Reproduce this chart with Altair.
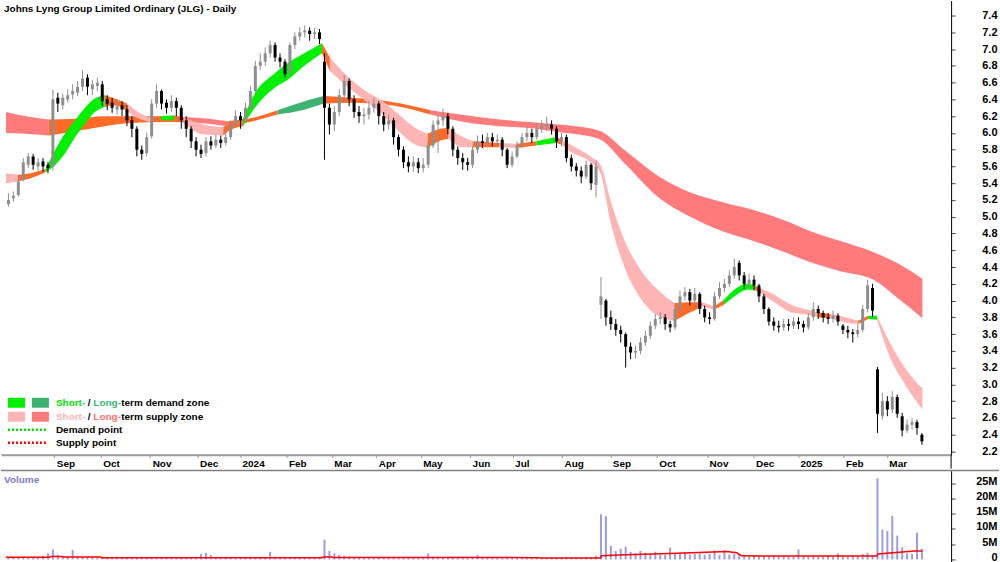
import json
import altair as alt
import pandas as pd

FONT = "Liberation Sans"

# ---------------- candles (one candle per two sessions) ----------------
OPEN = [5.15,5.22,5.26,5.45,5.62,5.72,5.60,5.66,5.62,5.60,
        6.42,6.33,6.40,6.46,6.48,6.55,6.66,6.52,6.56,6.58,
        6.40,6.36,6.28,6.33,6.28,6.15,6.05,5.80,5.76,5.96,
        6.35,6.50,6.36,6.30,6.38,6.30,6.15,6.05,5.90,5.80,
        5.76,5.90,5.85,5.92,5.88,5.95,6.10,6.20,6.15,6.30,
        6.50,6.80,6.85,6.95,7.05,6.90,6.85,6.72,7.05,7.15,
        7.20,7.22,7.18,7.20,6.85,6.30,6.10,6.25,6.45,6.62,
        6.40,6.25,6.20,6.22,6.30,6.35,6.20,6.10,6.15,5.95,
        5.80,5.65,5.60,5.65,5.58,5.62,5.85,6.10,6.15,6.20,
        6.05,5.80,5.70,5.65,5.62,5.80,5.90,5.88,5.95,5.90,
        5.92,5.80,5.62,5.72,5.85,5.95,6.00,5.95,6.05,6.08,
        6.10,6.05,5.90,5.95,5.70,5.60,5.55,5.48,5.62,5.38,
        3.95,4.00,3.80,3.72,3.65,3.60,3.45,3.38,3.40,3.50,
        3.58,3.70,3.78,3.80,3.72,3.68,3.90,4.05,4.10,4.00,
        4.08,3.90,3.80,3.78,4.05,4.15,4.20,4.30,4.45,4.30,
        4.20,4.25,4.18,4.05,3.90,3.75,3.70,3.68,3.72,3.70,
        3.75,3.72,3.68,3.80,3.90,3.85,3.80,3.78,3.82,3.70,
        3.65,3.62,3.60,3.65,3.90,4.15,3.18,2.62,2.80,2.70,
        2.85,2.62,2.45,2.52,2.55,2.40]
HIGH = [5.28,5.30,5.47,5.70,5.76,5.75,5.70,5.70,5.65,6.52,
        6.48,6.47,6.52,6.58,6.62,6.75,6.70,6.63,6.66,6.62,
        6.45,6.42,6.40,6.38,6.33,6.20,6.08,5.85,6.00,6.40,
        6.58,6.52,6.40,6.45,6.42,6.33,6.20,6.08,5.95,5.86,
        5.95,5.96,5.98,5.97,6.02,6.15,6.27,6.25,6.36,6.56,
        6.86,6.95,7.02,7.10,7.08,6.95,6.88,7.08,7.20,7.26,
        7.28,7.26,7.25,7.24,6.95,6.35,6.32,6.52,6.69,6.65,
        6.45,6.32,6.30,6.38,6.42,6.38,6.25,6.22,6.18,5.98,
        5.84,5.72,5.72,5.70,5.70,5.90,6.15,6.22,6.29,6.24,
        6.08,5.84,5.76,5.70,5.84,5.97,5.98,6.00,6.00,5.98,
        5.95,5.82,5.78,5.90,6.00,6.08,6.05,6.12,6.15,6.19,
        6.15,6.08,6.00,5.98,5.74,5.64,5.60,5.67,5.64,5.67,
        4.28,4.02,3.88,3.78,3.70,3.62,3.50,3.46,3.56,3.64,
        3.75,3.84,3.86,3.84,3.76,3.95,4.12,4.16,4.14,4.15,
        4.10,3.94,3.86,4.10,4.22,4.26,4.36,4.50,4.48,4.34,
        4.32,4.30,4.20,4.08,3.92,3.80,3.76,3.78,3.78,3.80,
        3.80,3.76,3.85,3.98,3.94,3.88,3.85,3.88,3.85,3.72,
        3.70,3.66,3.72,3.95,4.25,4.20,3.21,2.90,2.86,2.92,
        2.88,2.66,2.58,2.60,2.58,2.42]
LOW = [5.12,5.18,5.24,5.42,5.58,5.56,5.55,5.54,5.52,5.55,
       6.25,6.28,6.36,6.40,6.44,6.50,6.45,6.45,6.50,6.32,
       6.27,6.24,6.22,6.20,6.08,5.95,5.72,5.68,5.72,5.93,
       6.30,6.28,6.23,6.25,6.20,6.05,5.95,5.82,5.72,5.70,
       5.72,5.80,5.82,5.82,5.85,5.92,6.06,6.05,6.12,6.27,
       6.47,6.75,6.80,6.90,6.85,6.78,6.66,6.70,7.00,7.10,
       7.14,7.10,7.12,7.06,5.68,5.98,6.02,6.20,6.40,6.32,
       6.18,6.12,6.10,6.16,6.24,6.10,6.02,6.04,5.86,5.72,
       5.58,5.53,5.54,5.52,5.53,5.58,5.82,5.76,6.08,5.98,
       5.72,5.62,5.56,5.55,5.58,5.76,5.82,5.84,5.84,5.86,
       5.72,5.58,5.59,5.70,5.82,5.90,5.88,5.92,6.00,6.02,
       5.98,5.82,5.84,5.65,5.54,5.48,5.40,5.45,5.32,5.23,
       3.78,3.70,3.65,3.58,3.50,3.20,3.30,3.31,3.36,3.46,
       3.54,3.66,3.72,3.65,3.62,3.65,3.86,4.00,3.94,3.96,
       3.84,3.74,3.72,3.76,4.02,4.10,4.16,4.26,4.24,4.14,
       4.15,4.12,3.98,3.84,3.70,3.64,3.62,3.64,3.64,3.66,
       3.66,3.62,3.65,3.76,3.78,3.74,3.72,3.74,3.70,3.60,
       3.55,3.50,3.56,3.62,3.86,3.80,2.42,2.58,2.62,2.66,
       2.60,2.38,2.42,2.46,2.40,2.28]
CLOSE = [5.20,5.25,5.42,5.65,5.72,5.62,5.65,5.60,5.58,6.40,
         6.35,6.42,6.45,6.50,6.55,6.65,6.55,6.58,6.60,6.38,
         6.35,6.30,6.32,6.28,6.15,6.05,5.80,5.75,5.95,6.35,
         6.50,6.35,6.30,6.38,6.30,6.15,6.05,5.90,5.80,5.75,
         5.90,5.85,5.92,5.88,5.95,6.10,6.20,6.15,6.30,6.50,
         6.80,6.85,6.95,7.05,6.90,6.85,6.70,7.05,7.15,7.20,
         7.22,7.18,7.20,7.12,6.30,6.10,6.25,6.45,6.62,6.40,
         6.25,6.20,6.22,6.30,6.35,6.20,6.10,6.15,5.95,5.80,
         5.65,5.60,5.65,5.58,5.62,5.85,6.10,6.15,6.20,6.05,
         5.80,5.70,5.65,5.62,5.80,5.90,5.88,5.95,5.90,5.92,
         5.80,5.62,5.72,5.85,5.95,6.00,5.95,6.05,6.08,6.10,
         6.05,5.90,5.95,5.70,5.60,5.55,5.48,5.62,5.40,5.60,
         4.05,3.80,3.72,3.65,3.60,3.45,3.38,3.40,3.50,3.58,
         3.70,3.78,3.80,3.72,3.68,3.90,4.05,4.10,4.00,4.08,
         3.90,3.80,3.78,4.05,4.15,4.20,4.30,4.40,4.30,4.20,
         4.25,4.18,4.05,3.90,3.75,3.70,3.68,3.72,3.70,3.75,
         3.72,3.68,3.80,3.90,3.85,3.80,3.78,3.82,3.75,3.65,
         3.62,3.60,3.65,3.90,4.18,3.88,2.65,2.80,2.70,2.85,
         2.65,2.45,2.52,2.55,2.48,2.32]
VOLUME_M = [0.6,0.8,0.7,0.9,0.6,0.5,0.7,1.2,2.0,3.3,
            1.5,0.9,0.8,3.1,0.9,0.8,0.7,0.9,0.6,0.5,
            0.6,0.5,0.7,0.6,0.8,0.6,0.7,0.9,0.6,0.8,
            0.7,0.6,0.5,0.7,0.6,0.8,0.6,0.7,0.9,1.8,
            2.2,1.5,0.8,0.6,0.7,0.6,0.8,0.7,0.6,0.9,
            0.7,0.8,0.6,2.5,0.7,0.6,0.8,0.7,0.6,0.7,
            0.8,0.6,0.7,0.9,6.5,2.8,2.0,1.5,1.2,0.9,
            0.8,0.7,0.6,0.8,0.7,0.6,0.8,0.7,0.9,0.6,
            0.7,0.8,0.6,0.7,0.6,2.0,0.9,0.7,0.8,0.6,
            0.7,0.6,0.8,0.7,0.6,1.5,0.7,0.8,0.6,0.7,
            0.6,0.8,0.7,0.5,0.6,0.7,0.6,0.8,0.5,0.6,
            0.7,0.5,0.6,0.8,0.6,0.7,0.6,0.8,0.7,1.2,
            14.8,14.2,4.5,2.8,3.5,4.2,2.5,2.0,2.8,2.2,
            1.8,2.5,1.6,1.5,3.9,2.0,1.8,2.5,1.6,1.8,
            2.0,1.5,1.8,3.0,1.5,3.0,1.6,1.8,1.4,1.2,
            1.0,1.3,1.1,0.9,1.0,1.2,0.8,1.1,1.0,0.9,
            3.3,1.0,0.9,1.2,1.0,0.8,1.1,0.9,2.0,1.0,
            0.9,1.2,1.0,1.8,2.2,1.5,26.6,9.8,9.3,14.3,
            7.8,4.0,2.0,1.8,8.8,3.5]

# volume moving average (session position, millions)
VMA_X = [0, 17.6, 18, 23, 23.4, 38.4, 38.8, 128, 128.4, 132, 132.4, 216, 216.4,
         240.8, 241.2, 248, 272, 292, 296, 298, 320, 352.8, 353.2, 368, 371.2]
VMA_V = [0.7, 0.7, 1.0, 1.0, 0.8, 0.8, 0.6, 0.6, 0.8, 0.8, 0.65, 0.6, 0.45,
         0.45, 1.2, 1.5, 2.0, 2.6, 2.2, 1.2, 1.1, 1.1, 1.8, 2.8, 2.8]

# ---------------- zones ----------------
# state of the stretch that starts at each point: LS long supply, LD long demand,
# SS short supply, SD short demand, OR orange (mixed)
LT_X = [0, 8, 17.2, 28, 40, 52, 64, 72, 82, 90, 100, 110, 120, 128.8, 140, 149.2, 160,
        172, 184, 200, 212, 224, 240, 250.8, 264, 277.2, 290.8, 304, 316, 324.8, 338,
        351.2, 360.8, 371.2]
LT_UP = [6.25, 6.20, 6.16, 6.17, 6.20, 6.20, 6.20, 6.19, 6.17, 6.14, 6.18, 6.27, 6.37,
         6.44, 6.42, 6.40, 6.35, 6.27, 6.22, 6.16, 6.13, 6.10, 6.03, 5.79, 5.49, 5.29,
         5.17, 5.07, 4.95, 4.84, 4.71, 4.58, 4.45, 4.26]
LT_LO = [6.00, 5.99, 5.97, 6.02, 6.08, 6.12, 6.13, 6.13, 6.11, 6.08, 6.14, 6.22, 6.27,
         6.35, 6.36, 6.35, 6.31, 6.22, 6.14, 6.08, 6.06, 6.01, 5.93, 5.63, 5.24, 5.00,
         4.82, 4.70, 4.57, 4.47, 4.35, 4.25, 4.04, 3.79]
LT_STATE = ["LS", "LS", "OR", "OR", "OR", "OR", "OR", "LS", "LS", "OR", "OR", "LD", "LD",
            "OR", "OR", "OR", "OR", "LS", "LS", "LS", "LS", "LS", "LS", "LS", "LS", "LS",
            "LS", "LS", "LS", "LS", "LS", "LS", "LS", "LS"]

ST_X = [0, 4.8, 10, 16, 20, 24, 28, 32, 36, 40, 44, 49, 54, 58.8, 62.8, 68, 72, 80, 88,
        90, 96, 100.8, 108.8, 114, 120.8, 128, 131.2, 138.8, 145.2, 152, 158.8, 165.2,
        170.8, 176, 179.2, 185.2, 189.2, 200, 206.8, 214.8, 222.8, 225.2, 228, 237.2,
        240.8, 244.8, 250.8, 257.2, 264, 270.8, 277.2, 282, 286.8, 290.8, 296, 300,
        303.2, 306, 311.2, 318, 324.8, 328.8, 334, 340, 345.2, 349.2, 352.8, 358,
        364.8, 371.2]
ST_UP = [5.52, 5.50, 5.52, 5.57, 5.80, 6.00, 6.15, 6.30, 6.41, 6.45, 6.41, 6.35, 6.24,
         6.18, 6.20, 6.21, 6.18, 6.10, 6.07, 6.10, 6.17, 6.47, 6.71, 6.83, 6.95, 7.07,
         6.90, 6.66, 6.51, 6.39, 6.23, 6.07, 5.99, 6.05, 6.06, 5.95, 5.90, 5.88, 5.87,
         5.90, 5.95, 5.92, 5.87, 5.71, 5.62, 5.20, 4.70, 4.36, 4.13, 3.97, 3.98, 3.98,
         3.93, 4.01, 4.15, 4.20, 4.18, 4.14, 4.07, 3.95, 3.89, 3.86, 3.84, 3.80, 3.76,
         3.82, 3.82, 3.50, 3.17, 2.95]
ST_LO = [5.40, 5.42, 5.46, 5.53, 5.62, 5.76, 5.95, 6.11, 6.25, 6.31, 6.33, 6.26, 6.17,
         6.13, 6.15, 6.15, 6.12, 5.98, 5.97, 6.02, 6.08, 6.30, 6.54, 6.63, 6.80, 6.95,
         6.74, 6.54, 6.39, 6.23, 6.03, 5.87, 5.82, 5.91, 5.93, 5.83, 5.83, 5.83, 5.82,
         5.85, 5.88, 5.86, 5.79, 5.64, 5.52, 4.95, 4.38, 4.02, 3.82, 3.76, 3.86, 3.93,
         3.89, 3.95, 4.07, 4.13, 4.13, 4.08, 3.98, 3.86, 3.83, 3.80, 3.79, 3.74, 3.72,
         3.78, 3.77, 3.33, 2.97, 2.70]
ST_STATE = ["SS", "OR", "OR", "SD", "SD", "SD", "SD", "SD", "SD", "OR", "OR", "SS", "SS",
            "OR", "SD", "OR", "SS", "SS", "OR", "OR", "SD", "SD", "SD", "SD", "SD", "OR",
            "SS", "SS", "SS", "SS", "SS", "SS", "OR", "OR", "SS", "SS", "OR", "SS", "OR",
            "SD", "OR", "SS", "SS", "SS", "SS", "SS", "SS", "SS", "SS", "OR", "OR", "SS",
            "OR", "SD", "SD", "SD", "OR", "SS", "SS", "SS", "SS", "OR", "SS", "SS", "OR",
            "SD", "SS", "SS", "SS", "SS"]

# ---------------- axes ----------------
MONTH_POS = [19.6, 38.4, 58.4, 77.6, 94.8, 113.6, 132, 150, 168, 188, 205.2, 225.2,
             244.8, 263.6, 284, 302.8, 320.8, 339.2, 356.8]
MONTH_LABELS = ["Sep", "Oct", "Nov", "Dec", "2024", "Feb", "Mar", "Apr", "May", "Jun",
                "Jul", "Aug", "Sep", "Oct", "Nov", "Dec", "2025", "Feb", "Mar"]
PRICE_TICKS = [2.2, 2.4, 2.6, 2.8, 3.0, 3.2, 3.4, 3.6, 3.8, 4.0, 4.2, 4.4, 4.6, 4.8, 5.0,
               5.2, 5.4, 5.6, 5.8, 6.0, 6.2, 6.4, 6.6, 6.8, 7.0, 7.2, 7.4]
VOL_TICKS = [0, 5, 10, 15, 20, 25]

# ---------------- tables ----------------
bars = pd.DataFrame({
    "day": [2 * i + 1 for i in range(len(CLOSE))],
    "open": OPEN, "high": HIGH, "low": LOW, "close": CLOSE, "vol": VOLUME_M,
})
bars["dir"] = ["up" if c >= o else "down" for o, c in zip(OPEN, CLOSE)]


def band_rows(xs, ups, los, states):
    rows, seg, k, n = [], 0, 0, len(xs)
    while k < n - 1:
        s, j = states[k], k
        while j + 1 < n - 1 and states[j + 1] == s:
            j += 1
        for p in range(k, j + 2):
            rows.append({"day": xs[p], "up": ups[p], "lo": los[p], "state": s, "seg": seg})
        seg += 1
        k = j + 1
    return pd.DataFrame(rows)


lt_df = band_rows(LT_X, LT_UP, LT_LO, LT_STATE)
st_df = band_rows(ST_X, ST_UP, ST_LO, ST_STATE)
vma_df = pd.DataFrame({"day": VMA_X, "vma": VMA_V})
one = pd.DataFrame({"k": [0]})

# ---------------- scales ----------------
XSCALE = alt.Scale(domain=[0, 380.8], nice=False, zero=False)
YSCALE = alt.Scale(domain=[2.162, 7.579], nice=False, zero=False)
VSCALE = alt.Scale(domain=[-1.3, 29.1], nice=False, zero=False)
CSCALE = alt.Scale(domain=["up", "down", "SS", "LS", "SD", "LD", "OR"],
                   range=["#8E8E8E", "#000000", "#FFB4B4", "#FF7B7B", "#00F000", "#3CB371", "#FF6A28"])

lab_expr = f"{json.dumps(MONTH_LABELS)}[indexof({json.dumps(MONTH_POS)}, datum.value)]"
XAXIS = alt.Axis(values=MONTH_POS, labelExpr=lab_expr, orient="bottom", title=None, grid=False,
                 domainColor="#9A9A9A", domainWidth=2, tickColor="#9A9A9A", tickSize=3,
                 labelAlign="left", labelBaseline="top", labelPadding=1, labelOffset=2,
                 labelFont=FONT, labelFontSize=10, labelFontWeight="bold", labelColor="#000000",
                 labelFlush=False, labelOverlap=False, minExtent=14, maxExtent=14)
YAXIS = alt.Axis(orient="right", values=PRICE_TICKS, format=".1f", title=None, grid=False,
                 domainColor="#000000", tickColor="#444444", tickSize=4, labelAlign="right",
                 labelPadding=42, labelFont=FONT, labelFontSize=11, labelFontWeight="bold",
                 labelColor="#000000", labelFlush=False, labelOverlap=False,
                 minExtent=48, maxExtent=48)
VAXIS = alt.Axis(orient="right", values=VOL_TICKS, labelExpr="datum.value == 0 ? '0' : datum.value + 'M'",
                 title=None, grid=False, domainColor="#000000", tickColor="#444444", tickSize=4,
                 labelAlign="right", labelPadding=42, labelFont=FONT, labelFontSize=11,
                 labelFontWeight="bold", labelColor="#000000", labelFlush=False,
                 labelOverlap=False, labelOffset=-2, minExtent=48, maxExtent=48)


def xq(f):
    return alt.X(f"{f}:Q", scale=XSCALE, axis=XAXIS)


def yq(f):
    return alt.Y(f"{f}:Q", scale=YSCALE, axis=YAXIS, stack=None)


col = alt.Color("state:N", scale=CSCALE, legend=None)
dcol = alt.Color("dir:N", scale=CSCALE, legend=None)

lt_area = alt.Chart(lt_df).mark_area(interpolate="monotone").encode(
    x=xq("day"), y=yq("up"), y2="lo:Q", color=col, detail="seg:N")
st_area = alt.Chart(st_df).mark_area(interpolate="monotone").encode(
    x=xq("day"), y=yq("up"), y2="lo:Q", color=col, detail="seg:N")
wicks = alt.Chart(bars).mark_rule(strokeWidth=1).encode(
    x=xq("day"), y=yq("low"), y2="high:Q", color=dcol)
bodies = alt.Chart(bars).mark_bar(size=3).encode(
    x=xq("day"), y=yq("open"), y2="close:Q", color=dcol)


def label(s, x, y, color="#000000", size=10):
    return alt.Chart(one).mark_text(text=s, align="left", baseline="middle", font=FONT,
                                    fontSize=size, fontWeight="bold", color=color).encode(
        x=alt.value(x), y=alt.value(y))


def swatch(x, y, color):
    return alt.Chart(one).mark_rect(color=color).encode(
        x=alt.value(x), x2=alt.value(x + 17), y=alt.value(y), y2=alt.value(y + 10))


def dotted(y, color):
    return alt.Chart(one).mark_rule(color=color, strokeWidth=2.5, strokeDash=[2, 2]).encode(
        x=alt.value(7), x2=alt.value(45), y=alt.value(y))


legend_layers = [
    swatch(7, 398, "#00F000"), swatch(31, 398, "#3CB371"),
    swatch(7, 412, "#FFB4B4"), swatch(31, 412, "#FF7B7B"),
    label("Short-", 55, 403, "#00E000"), label("/", 87, 403), label("Long-", 92.5, 403, "#3CB371"),
    label("term demand zone", 120.5, 403),
    label("Short-", 55, 417, "#FFB4B4"), label("/", 87, 417), label("Long-", 92.5, 417, "#FF7070"),
    label("term supply zone", 120.5, 417),
    dotted(430, "#00E000"), label("Demand point", 55, 430),
    dotted(443, "#FF0000"), label("Supply point", 55, 443),
]

title = label("Johns Lyng Group Limited Ordinary (JLG) - Daily", 3, 8)
strip_rule = alt.Chart(one).mark_rule(color="#000000", strokeWidth=1).encode(
    x=alt.value(952), y=alt.value(455), y2=alt.value(469))

price = alt.layer(lt_area, st_area, wicks, bodies, title, strip_rule, *legend_layers).properties(
    width=952, height=455)

vbars = alt.Chart(bars).mark_bar(size=2, color="#9C9CE2").encode(
    x=alt.X("day:Q", scale=XSCALE, axis=None),
    y=alt.Y("vol:Q", scale=VSCALE, axis=VAXIS), y2=alt.datum(0))
vline = alt.Chart(vma_df).mark_line(color="#FF0000", strokeWidth=1.5).encode(
    x=alt.X("day:Q", scale=XSCALE, axis=None),
    y=alt.Y("vma:Q", scale=VSCALE, axis=VAXIS))
vtitle = label("Volume", 3, 9, "#7B7BC4")
top_rule = alt.Chart(one).mark_rule(color="#808080", strokeWidth=1.5).encode(
    x=alt.value(0), x2=alt.value(1000), y=alt.value(0))

volume = alt.layer(vbars, vline, vtitle, top_rule).properties(width=952, height=93)

chart = alt.vconcat(price, volume, spacing=0, padding=0, background="#FFFFFF").configure_view(
    stroke=None)

chart.save("out.html", embed_options={"renderer": "svg", "actions": False})
